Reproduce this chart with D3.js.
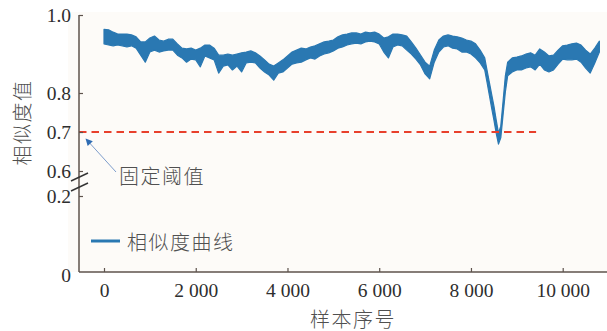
<!DOCTYPE html>
<html>
<head>
<meta charset="utf-8">
<script src="https://cdn.jsdelivr.net/npm/d3@7"></script>
<style>
  html, body { margin: 0; padding: 0; background: #ffffff; }
  svg { display: block; }
</style>
</head>
<body>
<svg id="chart" width="607" height="331"></svg>
<script>
// Sample index of each envelope point
const sampleIdx = [
  0, 100, 200, 300, 400, 500, 600, 700, 800, 900,
  1000, 1100, 1200, 1300, 1400, 1500, 1600, 1700, 1800, 1900,
  2000, 2100, 2200, 2300, 2400, 2500, 2600, 2700, 2800, 2900,
  3000, 3100, 3200, 3300, 3400, 3500, 3600, 3700, 3800, 3900,
  4000, 4100, 4200, 4300, 4400, 4500, 4600, 4700, 4800, 4900,
  5000, 5100, 5200, 5300, 5400, 5500, 5600, 5700, 5800, 5900,
  6000, 6100, 6200, 6300, 6400, 6500, 6600, 6700, 6800, 6900,
  7000, 7100, 7200, 7300, 7400, 7500, 7600, 7700, 7800, 7900,
  8000, 8100, 8200, 8300,
  8350, 8400, 8450, 8500, 8550, 8600, 8650, 8700, 8750, 8800,
  8900, 9000, 9100, 9200, 9300, 9400, 9500, 9600, 9700, 9800, 9900,
  10000, 10100, 10200, 10300, 10400, 10500, 10600, 10700, 10800
];

// Upper edge of the similarity curve's noise band
const simUpper = [
  0.963, 0.962, 0.956, 0.951, 0.951, 0.951, 0.949, 0.944, 0.931, 0.931,
  0.941, 0.946, 0.936, 0.933, 0.938, 0.938, 0.926, 0.915, 0.913, 0.915,
  0.910, 0.915, 0.923, 0.923, 0.915, 0.897, 0.897, 0.900, 0.897, 0.900,
  0.903, 0.905, 0.908, 0.903, 0.895, 0.885, 0.874, 0.869, 0.877, 0.885,
  0.895, 0.905, 0.910, 0.915, 0.913, 0.918, 0.921, 0.926, 0.931, 0.933,
  0.936, 0.944, 0.949, 0.951, 0.954, 0.954, 0.951, 0.956, 0.954, 0.956,
  0.951, 0.941, 0.944, 0.951, 0.951, 0.949, 0.946, 0.931, 0.915, 0.897,
  0.879, 0.869, 0.910, 0.936, 0.946, 0.949, 0.946, 0.944, 0.941, 0.936,
  0.933, 0.926, 0.910, 0.890,
  0.859, 0.828, 0.797, 0.767, 0.731, 0.697, 0.715, 0.779, 0.844, 0.879,
  0.890, 0.892, 0.895, 0.900, 0.903, 0.897, 0.913, 0.905, 0.895, 0.897, 0.910,
  0.921, 0.923, 0.926, 0.928, 0.923, 0.910, 0.900, 0.915, 0.933
];

// Lower edge of the similarity curve's noise band
const simLower = [
  0.926, 0.923, 0.921, 0.923, 0.921, 0.918, 0.921, 0.915, 0.897, 0.879,
  0.905, 0.910, 0.905, 0.908, 0.910, 0.910, 0.897, 0.890, 0.879, 0.887,
  0.885, 0.867, 0.895, 0.890, 0.885, 0.851, 0.869, 0.872, 0.859, 0.869,
  0.854, 0.877, 0.879, 0.877, 0.864, 0.854, 0.846, 0.833, 0.851, 0.854,
  0.864, 0.874, 0.877, 0.879, 0.885, 0.890, 0.887, 0.895, 0.900, 0.903,
  0.908, 0.915, 0.918, 0.923, 0.926, 0.928, 0.926, 0.931, 0.933, 0.931,
  0.926, 0.905, 0.890, 0.918, 0.923, 0.921, 0.910, 0.900, 0.887, 0.872,
  0.849, 0.836, 0.879, 0.905, 0.918, 0.921, 0.915, 0.913, 0.905, 0.905,
  0.900, 0.890, 0.877, 0.859,
  0.828, 0.795, 0.762, 0.731, 0.697, 0.669, 0.685, 0.744, 0.803, 0.844,
  0.854, 0.859, 0.859, 0.864, 0.867, 0.859, 0.874, 0.859, 0.854, 0.859, 0.874,
  0.887, 0.885, 0.885, 0.887, 0.879, 0.864, 0.851, 0.877, 0.905
];

// Fixed threshold line
const thresholdValue = 0.7;
const thresholdEnd = 9420;

// Axis ticks and labels
const xTickValues = [0, 2000, 4000, 6000, 8000, 10000];
const xTickLabels = ["0", "2 000", "4 000", "6 000", "8 000", "10 000"];
const yTopTicks = [0.6, 0.7, 0.8, 1.0];
const yTopLabels = ["0.6", "0.7", "0.8", "1.0"];
const yBottomTicks = [0, 0.2];
const yBottomLabels = ["0", "0.2"];

const seriesName = "相似度曲线";
const thresholdName = "固定阈值";
const xTitle = "样本序号";
const yTitle = "相似度值";

const svg = d3.select("#chart");
const W = 607, H = 331;
const axisLeftX = 79, axisBottomY = 272;

const numFont = "'Liberation Serif', 'Times New Roman', serif";
const cjkFont = "'Noto Sans CJK SC', 'Noto Sans', sans-serif";
const blue = "#2a78b2";
const axisColor = "#5e534d";
const textGray = "#505050";

// Scales: x is linear, y is broken into an upper (0.6–1.0) and lower (0–0.2) segment
const x = d3.scaleLinear().domain([0, 10000]).range([104, 562.7]);
const yTop = d3.scaleLinear().domain([0.6, 1.0]).range([171, 15]);
const yBot = d3.scaleLinear().domain([0, 0.2]).range([axisBottomY, 196]);

// Plot background
svg.append("rect")
  .attr("x", 68).attr("y", 12)
  .attr("width", W - 68).attr("height", axisBottomY - 12)
  .attr("fill", "#fdfbf8");

// Similarity curve as a noisy band
const pts = sampleIdx.map((s, i) => ({ s, hi: simUpper[i], lo: simLower[i] }));
const band = d3.area()
  .x(d => x(d.s))
  .y0(d => yTop(d.lo))
  .y1(d => yTop(d.hi));
svg.append("path")
  .datum(pts)
  .attr("d", band)
  .attr("fill", blue)
  .attr("stroke", blue)
  .attr("stroke-width", 1.2)
  .attr("stroke-linejoin", "round");

// Threshold dashed line
svg.append("line")
  .attr("x1", axisLeftX).attr("x2", x(thresholdEnd))
  .attr("y1", yTop(thresholdValue)).attr("y2", yTop(thresholdValue))
  .attr("stroke", "#e8402c")
  .attr("stroke-width", 2)
  .attr("stroke-dasharray", "7.5,5");

// Axes
function styleAxis(g) {
  g.select(".domain").remove();
  g.selectAll(".tick line").attr("stroke", axisColor).attr("stroke-width", 1.2);
  g.selectAll(".tick text")
    .attr("fill", "#2e2e2e")
    .style("font-family", numFont)
    .style("font-size", "19.5px");
}

svg.append("g")
  .attr("transform", `translate(${axisLeftX},0)`)
  .call(d3.axisLeft(yTop).tickValues(yTopTicks)
    .tickFormat((d, i) => yTopLabels[i]).tickSize(-4).tickPadding(8))
  .call(styleAxis);

svg.append("g")
  .attr("transform", `translate(${axisLeftX},0)`)
  .call(d3.axisLeft(yBot).tickValues(yBottomTicks)
    .tickFormat((d, i) => yBottomLabels[i]).tickSize(-4).tickPadding(8))
  .call(styleAxis)
  .call(g => g.selectAll(".tick").filter(d => d === 0).select("line").remove())
  .call(g => g.selectAll(".tick").filter(d => d === 0).select("text").attr("dy", "0.5em"));

svg.append("g")
  .attr("transform", `translate(0,${axisBottomY})`)
  .call(d3.axisBottom(x).tickValues(xTickValues)
    .tickFormat((d, i) => xTickLabels[i]).tickSize(-4).tickPadding(8))
  .call(styleAxis)
  .call(g => g.selectAll(".tick text").attr("dy", "0.85em"));

// Axis lines
svg.append("line")
  .attr("x1", axisLeftX).attr("x2", axisLeftX)
  .attr("y1", 15).attr("y2", axisBottomY)
  .attr("stroke", axisColor).attr("stroke-width", 1.5);
svg.append("line")
  .attr("x1", axisLeftX).attr("x2", W)
  .attr("y1", axisBottomY).attr("y2", axisBottomY)
  .attr("stroke", axisColor).attr("stroke-width", 1.5);

// Axis break marks
[177, 187].forEach(cy => {
  svg.append("line")
    .attr("x1", axisLeftX - 8).attr("y1", cy + 4)
    .attr("x2", axisLeftX + 9).attr("y2", cy - 4)
    .attr("stroke", "#333").attr("stroke-width", 1.4);
});

// Shared style for the Chinese labels
function cjkText(sel) {
  return sel
    .attr("fill", textGray)
    .style("font-family", cjkFont)
    .style("font-weight", "300")
    .style("font-size", "20px")
    .style("letter-spacing", "1.5px");
}

// Axis titles
svg.append("text")
  .attr("transform", `translate(21,${(80 + 165) / 2}) rotate(-90)`)
  .attr("text-anchor", "middle")
  .attr("dominant-baseline", "central")
  .call(cjkText)
  .text(yTitle);

svg.append("text")
  .attr("x", 353).attr("y", 318)
  .attr("text-anchor", "middle")
  .attr("dominant-baseline", "central")
  .call(cjkText)
  .text(xTitle);

// Threshold annotation with arrow
const defs = svg.append("defs");
defs.append("marker")
  .attr("id", "arrowhead")
  .attr("viewBox", "0 0 10 10")
  .attr("refX", 9).attr("refY", 5)
  .attr("markerWidth", 9).attr("markerHeight", 7)
  .attr("markerUnits", "userSpaceOnUse")
  .attr("orient", "auto")
  .append("path")
  .attr("d", "M0,0 L10,5 L0,10 Z")
  .attr("fill", "#2f6cb3");

svg.append("line")
  .attr("x1", 116).attr("y1", 172)
  .attr("x2", 86).attr("y2", 139)
  .attr("stroke", "#7d9dcc")
  .attr("stroke-width", 1)
  .attr("marker-end", "url(#arrowhead)");

svg.append("text")
  .attr("x", 119).attr("y", 175)
  .attr("dominant-baseline", "central")
  .call(cjkText)
  .text(thresholdName);

// Legend
svg.append("line")
  .attr("x1", 91).attr("x2", 120)
  .attr("y1", 241).attr("y2", 241)
  .attr("stroke", blue).attr("stroke-width", 3);
svg.append("text")
  .attr("x", 127).attr("y", 241)
  .attr("dominant-baseline", "central")
  .call(cjkText)
  .text(seriesName);
</script>
</body>
</html>
